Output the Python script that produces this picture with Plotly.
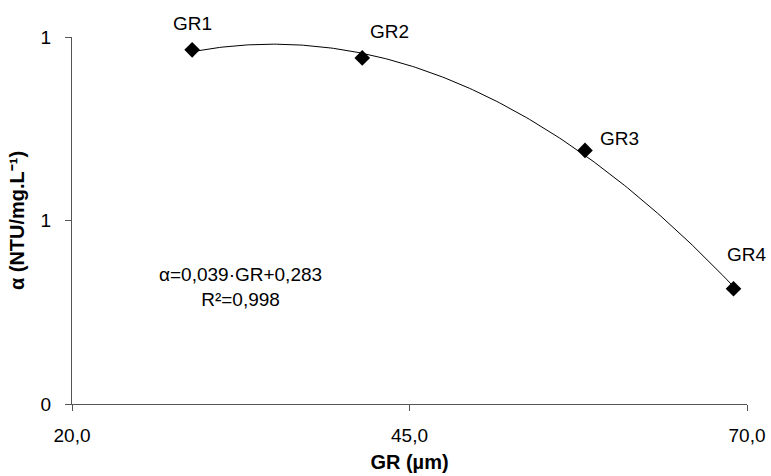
import numpy as np
import plotly.graph_objects as go

# Data
labels = ["GR1", "GR2", "GR3", "GR4"]
gr_values = [28.9, 41.5, 58.0, 69.0]
alpha_values = [0.965, 0.943, 0.691, 0.314]

x_ticks = [20, 45, 70]
x_ticktext = ["20,0", "45,0", "70,0"]
y_ticks = [0, 0.5, 1.0]
y_ticktext = ["0", "1", "1"]

# label offsets in pixels (x, y)
label_dx = [0, 27, 34, 13]
label_dy = [26, 26, 12, 34]

FONT = "Liberation Sans, Arial, sans-serif"

# second-order polynomial trendline fitted to the data
coef = np.polyfit(gr_values, alpha_values, 2)
xs = np.linspace(min(gr_values), max(gr_values), 200)
ys = np.polyval(coef, xs)

fig = go.Figure()
fig.add_trace(go.Scatter(x=xs, y=ys, mode="lines",
                         line=dict(color="black", width=1), hoverinfo="skip",
                         showlegend=False))
fig.add_trace(go.Scatter(x=gr_values, y=alpha_values, mode="markers",
                         marker=dict(symbol="diamond", size=12, color="black"),
                         showlegend=False))

for lab, xv, yv, dx, dy in zip(labels, gr_values, alpha_values, label_dx, label_dy):
    fig.add_annotation(x=xv, y=yv, text=lab, showarrow=False,
                       xshift=dx, yshift=dy,
                       font=dict(family=FONT, size=19, color="black"))

fig.add_annotation(x=0.25, y=0.32, xref="paper", yref="paper",
                   xanchor="center", yanchor="middle",
                   text="α=0,039·GR+0,283<br>R²=0,998", showarrow=False,
                   align="center",
                   font=dict(family=FONT, size=19, color="black"))

fig.update_layout(
    width=771, height=476,
    margin=dict(l=72, r=24, t=37, b=72),
    paper_bgcolor="white", plot_bgcolor="white",
    font=dict(family=FONT, size=19, color="black"),
    xaxis=dict(range=[20, 70], tickvals=x_ticks, ticktext=x_ticktext,
               automargin=False,
               showgrid=False, zeroline=False, showline=True,
               linecolor="#555555", linewidth=1, ticks="outside",
               ticklen=6, tickcolor="#555555", ticklabelstandoff=8,
               title=dict(text="<b>GR (µm)</b>", standoff=10,
                          font=dict(family=FONT, size=20))),
    yaxis=dict(range=[0, 1], tickvals=y_ticks, ticktext=y_ticktext,
               automargin=False,
               showgrid=False, zeroline=False, showline=True,
               linecolor="#555555", linewidth=1, ticks="outside",
               ticklen=6, tickcolor="#555555", ticklabelstandoff=10,
               title=dict(text="<b>α (NTU/mg.L⁻¹)</b>", standoff=10,
                          font=dict(family=FONT, size=20))),
)

fig.write_html("out.html")
